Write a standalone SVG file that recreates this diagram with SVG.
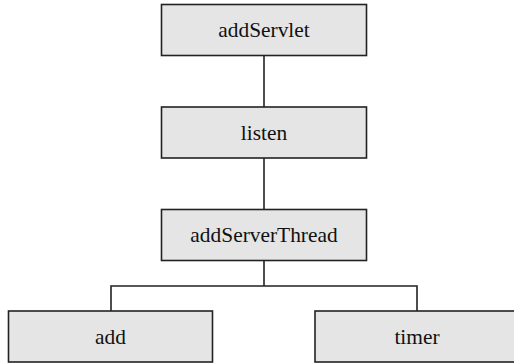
<svg xmlns="http://www.w3.org/2000/svg" width="514" height="363" viewBox="0 0 514 363">
<style>
.box{fill:#e5e5e5;stroke:#222;stroke-width:1.6}
.lbl{font-family:"Liberation Serif","Times New Roman",serif;font-size:21.4px;fill:#111;text-anchor:middle}
.conn{fill:none;stroke:#222;stroke-width:1.6}
</style>
<rect width="514" height="363" fill="#fff"/>
<g id="connectors">
<line class="conn" x1="264" y1="55.5" x2="264" y2="107"/>
<line class="conn" x1="264" y1="158" x2="264" y2="209.5"/>
<polyline class="conn" points="264,260.5 264,286"/>
<polyline class="conn" points="111,311 111,286 417,286 417,311"/>
</g>
<g id="addServlet">
<rect class="box" x="161.5" y="4.5" width="205" height="51"/>
<text class="lbl" x="264" y="37">addServlet</text>
</g>
<g id="listen">
<rect class="box" x="161.5" y="107" width="205" height="51"/>
<text class="lbl" x="264" y="139.5">listen</text>
</g>
<g id="addServerThread">
<rect class="box" x="161.5" y="209.5" width="205" height="51"/>
<text class="lbl" x="264" y="242">addServerThread</text>
</g>
<g id="add">
<rect class="box" x="8.5" y="311" width="204" height="51"/>
<text class="lbl" x="110.5" y="343.5">add</text>
</g>
<g id="timer">
<rect class="box" x="315" y="311" width="204" height="51"/>
<text class="lbl" x="417" y="343.5">timer</text>
</g>
</svg>
